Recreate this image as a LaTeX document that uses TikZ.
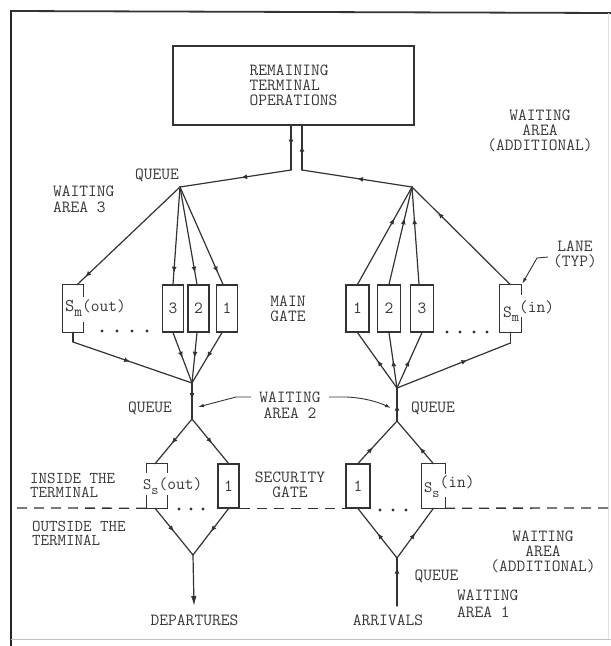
\documentclass[tikz,border=0pt]{standalone}
\usepackage{fontspec}
\usetikzlibrary{arrows.meta,decorations.markings}
\definecolor{ink}{gray}{0.2}
\definecolor{txt}{gray}{0.22}
\newcommand\tfsz[2]{\ttfamily\fontsize{#1}{#2}\selectfont}
\begin{document}
\begin{tikzpicture}[x=1pt,y=-1pt,
  every node/.style={font=\tfsz{17}{15}, text=txt, inner sep=0pt},
  flow/.style={draw=ink, line width=1.2pt, line cap=round, line join=round},
  am/.style={postaction={decorate}, decoration={markings, mark=at position #1 with {\arrow{Latex[length=6pt,width=5pt]}}}},
  lanebox/.style={draw=ink, line width=1.2pt, minimum width=21pt, minimum height=47pt},
  wlanebox/.style={lanebox, minimum width=23pt},
  secbox/.style={draw=ink, line width=1.2pt, minimum width=21pt, minimum height=44pt},
  gapbox/.style={minimum width=20pt, minimum height=47pt},
  gapsec/.style={minimum width=21pt, minimum height=44pt},
  outline/.style={draw=ink, line width=1.2pt, line join=miter},
  leader/.style={draw=ink, line width=0.9pt, -{Latex[length=6pt,width=3.5pt]}},
  dashline/.style={draw=ink, line width=1.3pt, dash pattern=on 10pt off 7pt},
]
\useasboundingbox (0,0) rectangle (611,646);

% frame
\draw[black!85, line width=2.2pt] (11,10) -- (11,646);
\draw[black!80, line width=1.8pt] (10,11) -- (611,13);
\draw[black!25, line width=1pt] (11,639) -- (611,639);
\draw[black!12, line width=0.8pt] (608,13) -- (608,639);

% top box
\node[draw=ink, line width=1.2pt, minimum width=241pt, minimum height=79pt, align=left] (ops) at (293.5,85.5) {REMAINING\\TERMINAL\\OPERATIONS};

% junction points
\coordinate (bL) at (291,170);
\coordinate (bR) at (302,170);
\coordinate (qU1) at (180,187);
\coordinate (qU2) at (412,187);
\coordinate (qM1) at (192,383);
\coordinate (qM2) at (397,388);
\coordinate (dLt) at (192,419);
\coordinate (dRt) at (397,421);
\coordinate (dLb) at (193,555);
\coordinate (dRb) at (397,558);
\coordinate (kL) at (73,342);
\coordinate (kR) at (510.5,343);
\coordinate (depEnd) at (194,606);
\coordinate (arrStart) at (397,606);

% main gate lanes
\node[gapbox] (SmO) at (73,308.5) {};
\node[lanebox] (lo3) at (173,308.5) {3};
\node[lanebox] (lo2) at (198.5,308.5) {2};
\node[lanebox] (lo1) at (227,308.5) {1};
\node[wlanebox] (li1) at (357.5,308.5) {1};
\node[wlanebox] (li2) at (389,308.5) {2};
\node[wlanebox] (li3) at (422,308.5) {3};
\node[gapbox, minimum width=21pt] (SmI) at (510.5,308.5) {};

% gapped outlines (main gate)
\draw[outline] ([yshift=-12pt]SmO.north east) -- (SmO.north east) -- (SmO.north west) -- (SmO.south west) -- (SmO.south east) -- ([yshift=10pt]SmO.south east);
\draw[outline] ([yshift=-10pt]SmI.north east) -- (SmI.north east) -- (SmI.north west) -- (SmI.south west) -- (SmI.south east) -- ([yshift=15pt]SmI.south east);

% security gate boxes
\node[gapsec, minimum width=20pt] (SsO) at (157,486) {};
\node[secbox] (sgo1) at (228.5,486) {1};
\node[secbox, minimum width=24pt] (sgi1) at (358,486) {1};
\node[gapsec, minimum width=23pt] (SsI) at (433.5,486) {};
\draw[outline] ([yshift=-9pt]SsO.north east) -- (SsO.north east) -- (SsO.north west) -- ([yshift=-9pt]SsO.north west);
\draw[outline] ([yshift=13pt]SsO.south west) -- (SsO.south west) -- (SsO.south east) -- ([yshift=13pt]SsO.south east);
\draw[outline] ([yshift=-10pt]SsI.north east) -- (SsI.north east) -- (SsI.north west) -- (SsI.south west) -- (SsI.south east) -- ([yshift=11pt]SsI.south east);

% box labels
\node[anchor=west] (tsmo) at (65,308) {{\tfsz{18}{18}S}\raisebox{-5pt}{\tfsz{15}{15}m}(out)};
\node[anchor=west] (tsmi) at (503,311) {{\tfsz{17}{17}S}\raisebox{-4pt}{\tfsz{14}{14}m}\raisebox{5pt}{(in)}};
\node[anchor=west] (tsso) at (143,486) {{\tfsz{16}{16}S}\raisebox{-5pt}{\tfsz{14}{14}s}(out)};
\node[anchor=west] (tssi) at (424,487) {{\tfsz{16}{16}S}\raisebox{-5pt}{\tfsz{14}{14}s}\raisebox{5pt}{(in)}};

% top connections
\draw[flow, am=0.45] ([xshift=-2.5pt]ops.south) -- (bL);
\draw[flow, am=0.45] (bL) -- (qU1);
\draw[flow, am=0.5] (qU2) -- (bR);
\draw[flow, am=0.55] (bR) -- ([xshift=8.5pt]ops.south);

% upper left fan (out)
\draw[flow, am=0.92] (qU1) -- ([xshift=4pt]SmO.north);
\draw[flow, am=0.88] (qU1) -- (lo3.north);
\draw[flow, am=0.88] (qU1) -- ([xshift=-1.5pt]lo2.north);
\draw[flow, am=0.88] (qU1) -- ([xshift=-4pt]lo1.north);

% upper right fan (in)
\draw[flow, am=0.68] (li1.north) -- (qU2);
\draw[flow, am=0.68] (li2.north) -- (qU2);
\draw[flow, am=0.68] ([xshift=-3pt]li3.north) -- (qU2);
\draw[flow, am=0.74] (SmI.north) -- (qU2);

% lower left merge
\draw[flow] (SmO.south) -- (kL);
\draw[flow, am=0.48] (kL) -- (qM1);
\draw[flow, am=0.5] (lo3.south) -- (qM1);
\draw[flow, am=0.5] ([xshift=-1.5pt]lo2.south) -- (qM1);
\draw[flow, am=0.5] ([xshift=-5pt]lo1.south) -- (qM1);

% lower right merge
\draw[flow, am=0.5] (qM2) -- (li1.south);
\draw[flow, am=0.5] (qM2) -- (li2.south);
\draw[flow, am=0.5] (qM2) -- (li3.south);
\draw[flow, am=0.62] (qM2) -- (kR);
\draw[flow] (kR) -- (SmI.south);

% stems
\draw[flow, am=0.45] (qM1) -- (dLt);
\draw[flow, am=0.5] (dRt) -- (qM2);

% security diamonds
\draw[flow, am=0.55] (dLt) -- ([xshift=-2pt]SsO.north);
\draw[flow, am=0.55] (dLt) -- (sgo1.north);
\draw[flow, am=0.5] ([xshift=-2pt]SsO.south) -- (dLb);
\draw[flow, am=0.5] (sgo1.south) -- (dLb);
\draw[flow, -{Latex[length=10pt,width=5.5pt]}] (dLb) -- (depEnd);

\draw[flow, am=0.5] (dRb) -- (sgi1.south);
\draw[flow, am=0.5] (dRb) -- (SsI.south);
\draw[flow, am=0.38] (sgi1.north) -- (dRt);
\draw[flow, am=0.38] (SsI.north) -- (dRt);
\draw[flow, am=0.8] (arrStart) -- (dRb);

% dashed boundary
\draw[dashline] (17,508) -- (SsO.south west);
\draw[dashline] (sgo1.south east) -- (sgi1.south west);
\draw[dashline] (SsI.south east) -- (608,508);

% dots
\foreach \x in {102,117,132,147} \fill[ink] (\x,331) circle (1.6pt);
\foreach \x in {447,460,474,487} \fill[ink] (\x,332) circle (1.6pt);
\foreach \x in {179,191,203} \fill[ink] (\x,509) circle (1.6pt);
\foreach \x in {380,393,406} \fill[ink] (\x,510) circle (1.6pt);

% text labels
\node[align=center] (waadd1) at (540,131) {WAITING\\AREA\\(ADDITIONAL)};
\node (qlab1) at (157,175) {QUEUE};
\node[align=left, anchor=west, font=\tfsz{17}{16}] (wa3) at (53,199) {WAITING\\AREA 3};
\node[align=center] (maingate) at (288,309) {MAIN\\GATE};
\node[align=center, font=\tfsz{17}{15}] (lane) at (575,254.5) {LANE\\(TYP)};
\node (qlab2) at (150,408) {QUEUE};
\node[align=center, font=\tfsz{17}{16}] (wa2) at (290,405) {WAITING\\AREA 2};
\node (qlab3) at (433,408) {QUEUE};
\node[align=left, anchor=west, font=\tfsz{16.5}{14}] (inside) at (30,485) {INSIDE THE\\TERMINAL};
\node[align=left, anchor=west, font=\tfsz{16.5}{14}] (outside) at (32,533) {OUTSIDE THE\\ TERMINAL};
\node[align=center, font=\tfsz{17}{15}] (secgate) at (290,484.5) {SECURITY\\GATE};
\node (dep) at (194.5,620) {DEPARTURES};
\node (arr) at (388,620) {ARRIVALS};
\node (qlab4) at (436.5,576) {QUEUE};
\node[align=left, anchor=west, font=\tfsz{17}{17}] (wa1) at (457,603.5) {WAITING\\AREA 1};
\node[align=center] (waadd2) at (543,552) {WAITING\\AREA\\(ADDITIONAL)};

% leaders
\coordinate (wa2a) at (251,397);
\coordinate (wa2b) at (236,397);
\coordinate (wa2c) at (198,407);
\coordinate (wa2d) at (329,397);
\coordinate (wa2e) at (347,397);
\coordinate (wa2f) at (391,408);
\draw[leader] (wa2a) -- (wa2b) -- (wa2c);
\draw[leader] (wa2d) -- (wa2e) .. controls (365,398) and (378,402) .. (wa2f);
\coordinate (ln1) at (548,257);
\coordinate (ln2) at (537,258);
\draw[leader] (ln1) -- (ln2) -- ([xshift=1pt,yshift=1pt]SmI.north east);
\end{tikzpicture}
\end{document}
